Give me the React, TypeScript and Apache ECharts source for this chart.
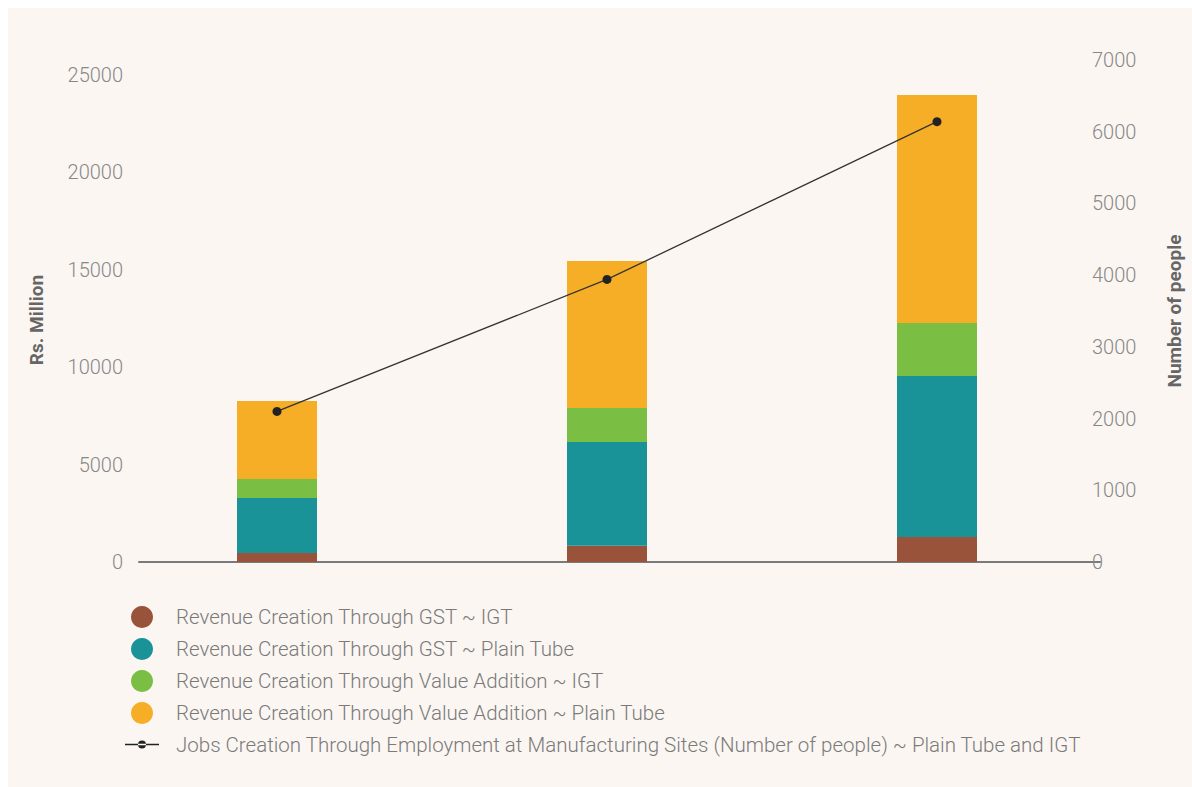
import React, { useEffect, useRef } from "react";
import * as echarts from "echarts";

const categories = ["Period 1", "Period 2", "Period 3"];
const gstIgt = [460, 840, 1280];
const gstPlainTube = [2825, 5320, 8270];
const vaIgt = [975, 1745, 2720];
const vaPlainTube = [4005, 7545, 11700];
const jobs = [2100, 3940, 6140];

const seriesNames = [
  "Revenue Creation Through GST ~ IGT",
  "Revenue Creation Through GST ~ Plain Tube",
  "Revenue Creation Through Value Addition ~ IGT",
  "Revenue Creation Through Value Addition ~ Plain Tube",
  "Jobs Creation Through Employment at Manufacturing Sites (Number of people) ~ Plain Tube and IGT",
];
const colors = ["#9a533b", "#1a9398", "#7abf43", "#f7ae27", "#222222"];

const FONT = "Roboto, 'Noto Sans', sans-serif";
// legend icon for the line series: thin line with a small dot in the middle
const LINE_ICON =
  "path://M0,3.3 L34,3.3 L34,4.7 L0,4.7 Z M13,4 A4,4 0 1 0 21,4 A4,4 0 1 0 13,4 Z";

export default function App() {
  const ref = useRef<HTMLDivElement>(null);
  useEffect(() => {
    if (!ref.current) return;
    const chart = echarts.init(ref.current, undefined, { renderer: "svg" });
    const barSeries = [gstIgt, gstPlainTube, vaIgt, vaPlainTube].map((arr, k) => ({
      name: seriesNames[k],
      type: "bar",
      stack: "rev",
      barWidth: 80,
      xAxisIndex: 0,
      yAxisIndex: 0,
      itemStyle: { color: colors[k] },
      data: arr,
    }));
    const nameStyle = { color: "#666", fontSize: 19, fontWeight: "bold", fontFamily: FONT };
    const labelStyle = { color: "#888", fontSize: 20, fontFamily: FONT, fontWeight: 300 };
    chart.setOption({
      animation: false,
      backgroundColor: "#fbf6f2",
      textStyle: { fontFamily: FONT },
      grid: [
        { left: 104, right: 84, top: 52, bottom: 225 },
        { left: 131, right: 92, top: 52, bottom: 225 },
      ],
      xAxis: [
        {
          type: "category",
          gridIndex: 0,
          data: categories,
          axisLine: { show: false },
          axisTick: { show: false },
          axisLabel: { show: false },
          splitLine: { show: false },
        },
        {
          type: "value",
          gridIndex: 1,
          min: 0,
          max: 1,
          axisLine: { show: true, lineStyle: { color: "#7a7a7a", width: 2 } },
          axisTick: { show: false },
          axisLabel: { show: false },
          splitLine: { show: false },
        },
      ],
      yAxis: [
        {
          type: "value",
          gridIndex: 0,
          min: 0,
          max: 25770,
          interval: 5000,
          name: "Rs. Million",
          nameLocation: "middle",
          nameRotate: 90,
          nameGap: 66,
          nameTextStyle: { ...nameStyle, padding: [0, 18, 0, 0] },
          axisLine: { show: false },
          axisTick: { show: false },
          splitLine: { show: false },
          axisLabel: { ...labelStyle, showMaxLabel: false, margin: -11, formatter: (v: number) => String(v) },
        },
        {
          type: "value",
          gridIndex: 0,
          min: 0,
          max: 7000,
          interval: 1000,
          position: "right",
          name: "Number of people",
          nameLocation: "middle",
          nameRotate: 90,
          nameGap: 63,
          nameTextStyle: nameStyle,
          axisLine: { show: false },
          axisTick: { show: false },
          splitLine: { show: false },
          axisLabel: { ...labelStyle, margin: -10, formatter: (v: number) => String(v) },
        },
        {
          type: "value",
          gridIndex: 1,
          min: 0,
          max: 1,
          show: false,
        },
      ],
      legend: {
        orient: "vertical",
        left: 112,
        top: 593,
        itemWidth: 34,
        itemHeight: 22,
        itemGap: 10,
        data: seriesNames.map((n, i) =>
          i < 4
            ? { name: n, icon: "circle" }
            : { name: n, icon: LINE_ICON, itemStyle: { color: "#222", borderWidth: 0 } }
        ),
        textStyle: { color: "#7a7a7a", fontSize: 20.5, fontFamily: FONT, fontWeight: 300, padding: [0, 0, 0, 12] },
      },
      series: [
        ...barSeries,
        {
          name: seriesNames[4],
          type: "line",
          xAxisIndex: 0,
          yAxisIndex: 1,
          symbol: "circle",
          symbolSize: 9,
          itemStyle: { color: "#222" },
          lineStyle: { color: "#333", width: 1.3 },
          data: jobs,
          z: 5,
        },
      ],
    });
    return () => chart.dispose();
  }, []);
  return (
    <div
      ref={ref}
      style={{ position: "fixed", left: 8, top: 8, width: 1184, height: 779 }}
    />
  );
}
